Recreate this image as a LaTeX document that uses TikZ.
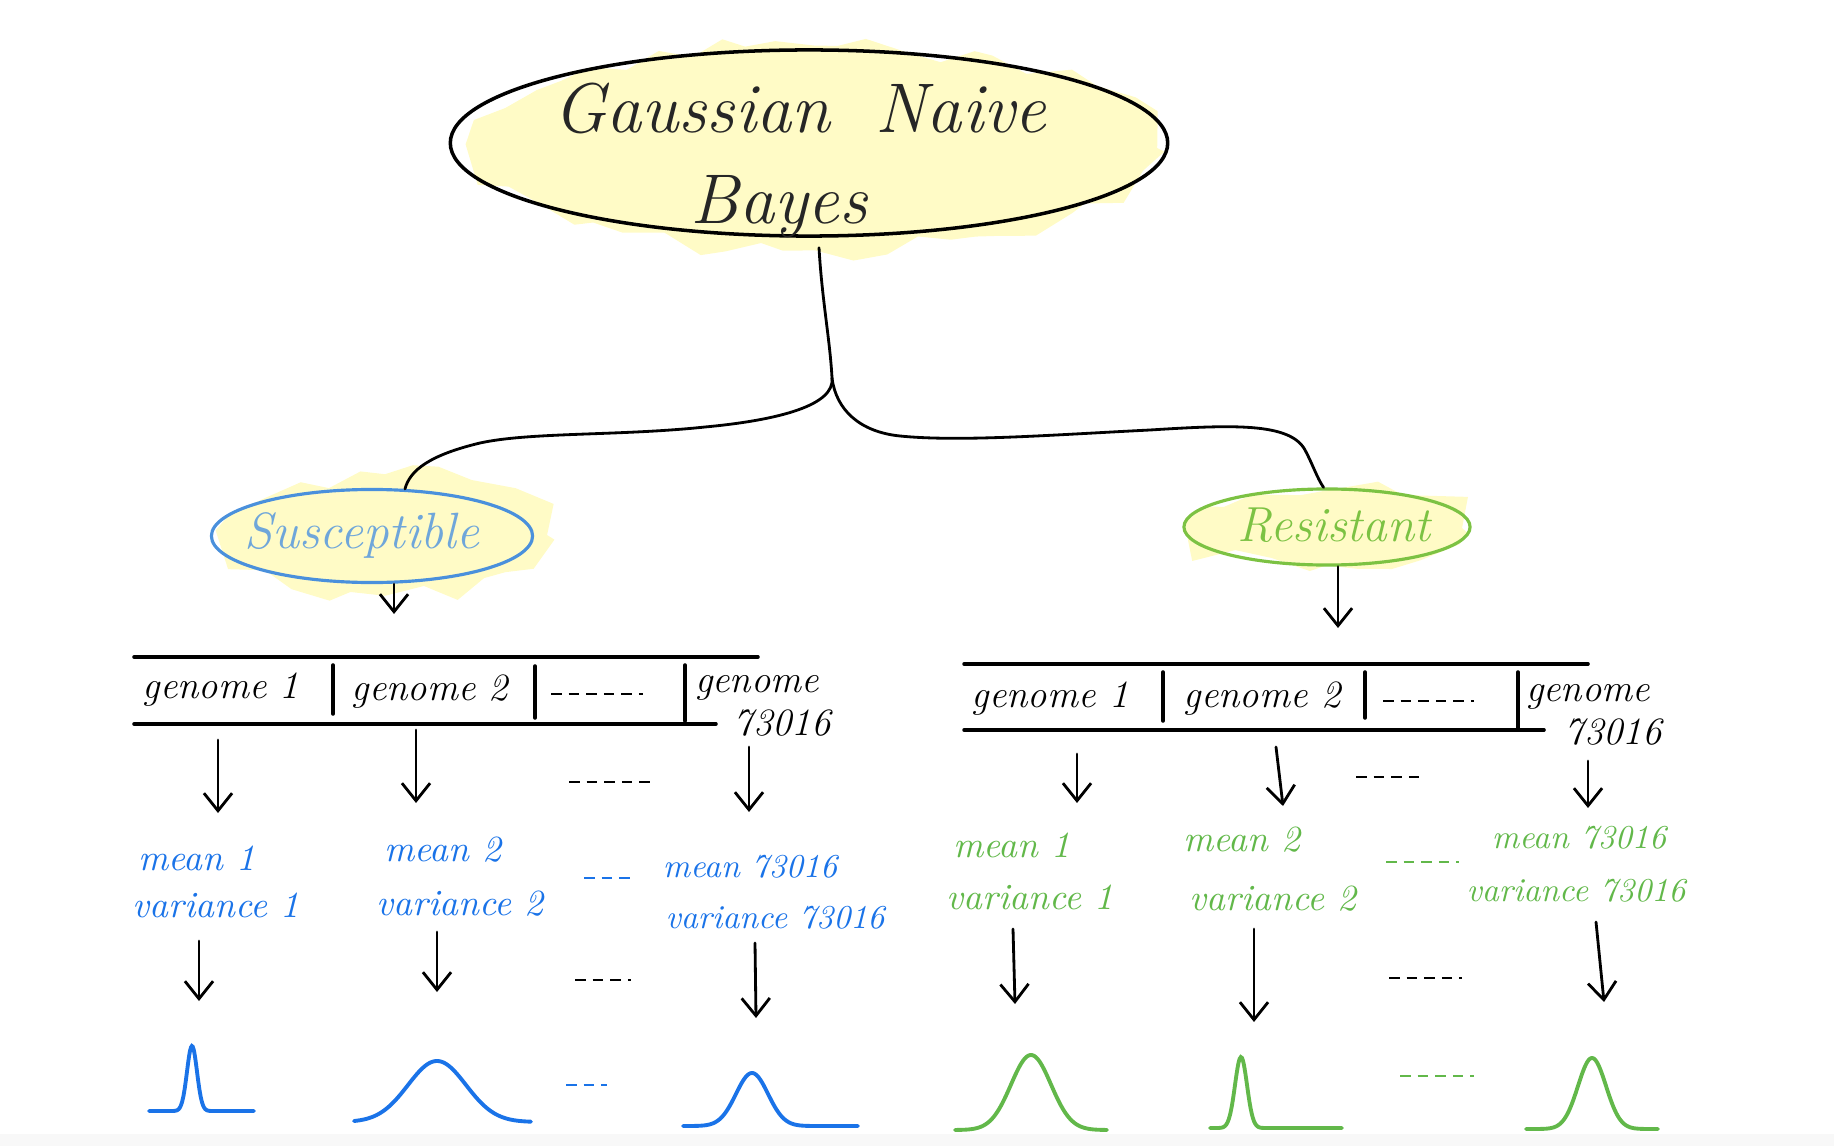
\documentclass[tikz,border=0pt]{standalone}
\usetikzlibrary{arrows.meta,shapes.geometric,decorations.pathmorphing}

\definecolor{hlyellow}{HTML}{FFFBC6}
\definecolor{susblue}{HTML}{4A90DC}
\definecolor{suslight}{HTML}{6FA6DA}
\definecolor{inkblue}{HTML}{1A73E8}
\definecolor{resgreen}{HTML}{7CC243}
\definecolor{inkgreen}{HTML}{62B84A}
\definecolor{paper}{HTML}{F8F8F8}

\tikzset{hand/.style={line width=0.8pt,line cap=round},
         arr/.style={hand,-{Straight Barb[length=5pt,width=8pt]}},
         rule/.style={line width=1pt,line cap=round},
         gapline/.style={line width=0.8pt,dash pattern=on 3pt off 2pt},
         hl/.style={fill=hlyellow,decorate,decoration={random steps,segment length=9pt,amplitude=3pt}},
         cell/.style={font=\fontsize{11}{13}\selectfont\itshape},
         stat/.style={font=\fontsize{10.5}{12}\selectfont\itshape},
         statlong/.style={font=\fontsize{9.5}{11}\selectfont\itshape},
         bell/.style={smooth,samples=121,line width=1.1pt,line cap=round}}

\begin{document}
\begin{tikzpicture}[x=0.01cm,y=-0.01cm]
    \useasboundingbox (0,0) rectangle (1834,1146);
    \fill[paper] (0,1134) rectangle (1834,1146);

    % highlighter behind the ellipses
    \pgfmathsetseed{5}
    \fill[hl] (815,148) ellipse [x radius=3.42cm,y radius=1.02cm];
    \fill[hl] (385,535) ellipse [x radius=1.62cm,y radius=0.6cm];
    \fill[hl] (1326,528) ellipse [x radius=1.36cm,y radius=0.37cm];

    \node[ellipse,draw,line width=1pt,minimum width=7.17cm,minimum height=1.86cm] (gnb) at (809,143) {};
    \node[anchor=base,font=\fontsize{20}{24}\selectfont\itshape,text=black!85] (gnbtop) at (800,133) {Gaussian\hspace{13pt}Naive};
    \node[anchor=base,font=\fontsize{20}{24}\selectfont\itshape,text=black!85] (gnbbot) at (779,224) {Bayes};

    \node[ellipse,draw=susblue,line width=0.9pt,minimum width=3.21cm,minimum height=0.93cm] (sus) at (372,536) {};
    \node[font=\fontsize{14.5}{17}\selectfont\itshape,text=suslight] (suslbl) at (362,535) {Susceptible};
    \node[ellipse,draw=resgreen,line width=0.9pt,minimum width=2.86cm,minimum height=0.76cm] (res) at (1327,527) {};
    \node[font=\fontsize{14}{17}\selectfont\itshape,text=resgreen] (reslbl) at (1334,525) {Resistant};

    % split into the two classes
    \coordinate (split) at (832,378);
    \draw[hand] ([shift={(10,10)}]gnb.south) .. controls (822,300) and (830,340) .. (split);
    \draw[hand] (split) .. controls (835,405) and (780,420) .. (705,427)
        .. controls (620,436) and (530,432) .. (480,443)
        .. controls (430,455) and (410,470) .. (sus.55);
    \draw[hand] (split) .. controls (836,410) and (860,432) .. (900,436)
        .. controls (960,442) and (1050,435) .. (1150,430)
        .. controls (1230,425) and (1290,422) .. (1305,450)
        .. controls (1313,465) and (1317,478) .. (res.95);

    \coordinate (susend) at (394,614);
    \coordinate (resend) at (1338,628);
    \draw[arr] (sus.south -| susend) -- (susend);
    \draw[arr] (res.south -| resend) -- (resend);

    % tables of genomes
    \draw[rule] (134,657) -- (758,657);
    \draw[rule] (134,724) -- (716,724);
    \draw[rule] (333,665) -- (333,714);
    \draw[rule] (535,666) -- (535,718);
    \draw[rule] (685,665) -- (685,721);
    \draw[rule] (964,664) -- (1588,664);
    \draw[rule] (964,730) -- (1544,730);
    \draw[rule] (1163,672) -- (1163,721);
    \draw[rule] (1365,672) -- (1365,718);
    \draw[rule] (1518,672) -- (1518,730);

    \node[cell] (sg1) at (221,690) {genome 1};
    \node[cell] (sg2) at (430,692) {genome 2};
    \node[cell,inner sep=0pt] (sgn) at (757,688) {genome};
    \node[cell,inner sep=0pt] (sgnum) at (782,723) {73016};
    \node[cell] (rg1) at (1050,699) {genome 1};
    \node[cell] (rg2) at (1262,699) {genome 2};
    \node[cell,inner sep=0pt] (rgn) at (1588,697) {genome};
    \node[cell,inner sep=0pt] (rgnum) at (1613,732) {73016};

    % mean and variance
    \node[stat,text=inkblue] (sm1) at (197,858) {mean 1};
    \node[stat,text=inkblue] (sv1) at (216,905) {variance 1};
    \node[stat,text=inkblue] (sm2) at (443,850) {mean 2};
    \node[stat,text=inkblue] (sv2) at (460,904) {variance 2};
    \node[statlong,text=inkblue] (smn) at (750,867) {mean 73016};
    \node[statlong,text=inkblue] (svn) at (775,918) {variance 73016};
    \node[stat,text=inkgreen] (rm1) at (1012,845) {mean 1};
    \node[stat,text=inkgreen] (rv1) at (1030,897) {variance 1};
    \node[stat,text=inkgreen] (rm2) at (1242,840) {mean 2};
    \node[stat,text=inkgreen] (rv2) at (1273,899) {variance 2};
    \node[statlong,text=inkgreen] (rmn) at (1579,838) {mean 73016};
    \node[statlong,text=inkgreen] (rvn) at (1576,891) {variance 73016};

    % arrows down the columns
    \foreach \n/\xa/\ya/\xb/\yb in {a1/218/740/218/813, a2/416/730/416/803, a3/749/747/749/812,
                                    a4/1077/754/1077/803, a5/1276/747/1283/806, a6/1588/761/1588/808,
                                    b1/199/941/199/1001, b2/437/932/437/992, b3/755/943/756/1018,
                                    b4/1013/929/1015/1004, b5/1254/929/1254/1022, b6/1596/922/1604/1002} {
        \coordinate (\n top) at (\xa,\ya);
        \coordinate (\n end) at (\xb,\yb);
        \draw[arr] (\n top) -- (\n end);
    }

    % dots for the skipped genomes
    \foreach \xa/\xb/\yy/\cc in {551/643/694/black, 1383/1474/701/black, 569/654/782/black, 1356/1424/777/black,
                                 584/631/878/inkblue, 1386/1459/862/inkgreen, 575/631/980/black, 1389/1462/978/black,
                                 566/607/1085/inkblue, 1400/1474/1076/inkgreen}
        \draw[gapline,\cc] (\xa,\yy) -- (\xb,\yy);

    % one normal curve per genome
    \foreach \cc/\xa/\xb/\cx/\sg/\yb/\amp in {inkblue/149/254/192/5/1111/65, inkblue/354/531/437/29/1122/61,
                                              inkblue/683/858/752/16/1126/53, inkgreen/955/1107/1031/20/1130/75,
                                              inkgreen/1210/1342/1241/6/1128/71, inkgreen/1526/1658/1592/14/1129/71}
        \draw[bell,\cc,domain=\xa:\xb] plot (\x,{\yb-\amp*exp(-min(((\x-\cx)/\sg)^2/2,9))});
\end{tikzpicture}
\end{document}
